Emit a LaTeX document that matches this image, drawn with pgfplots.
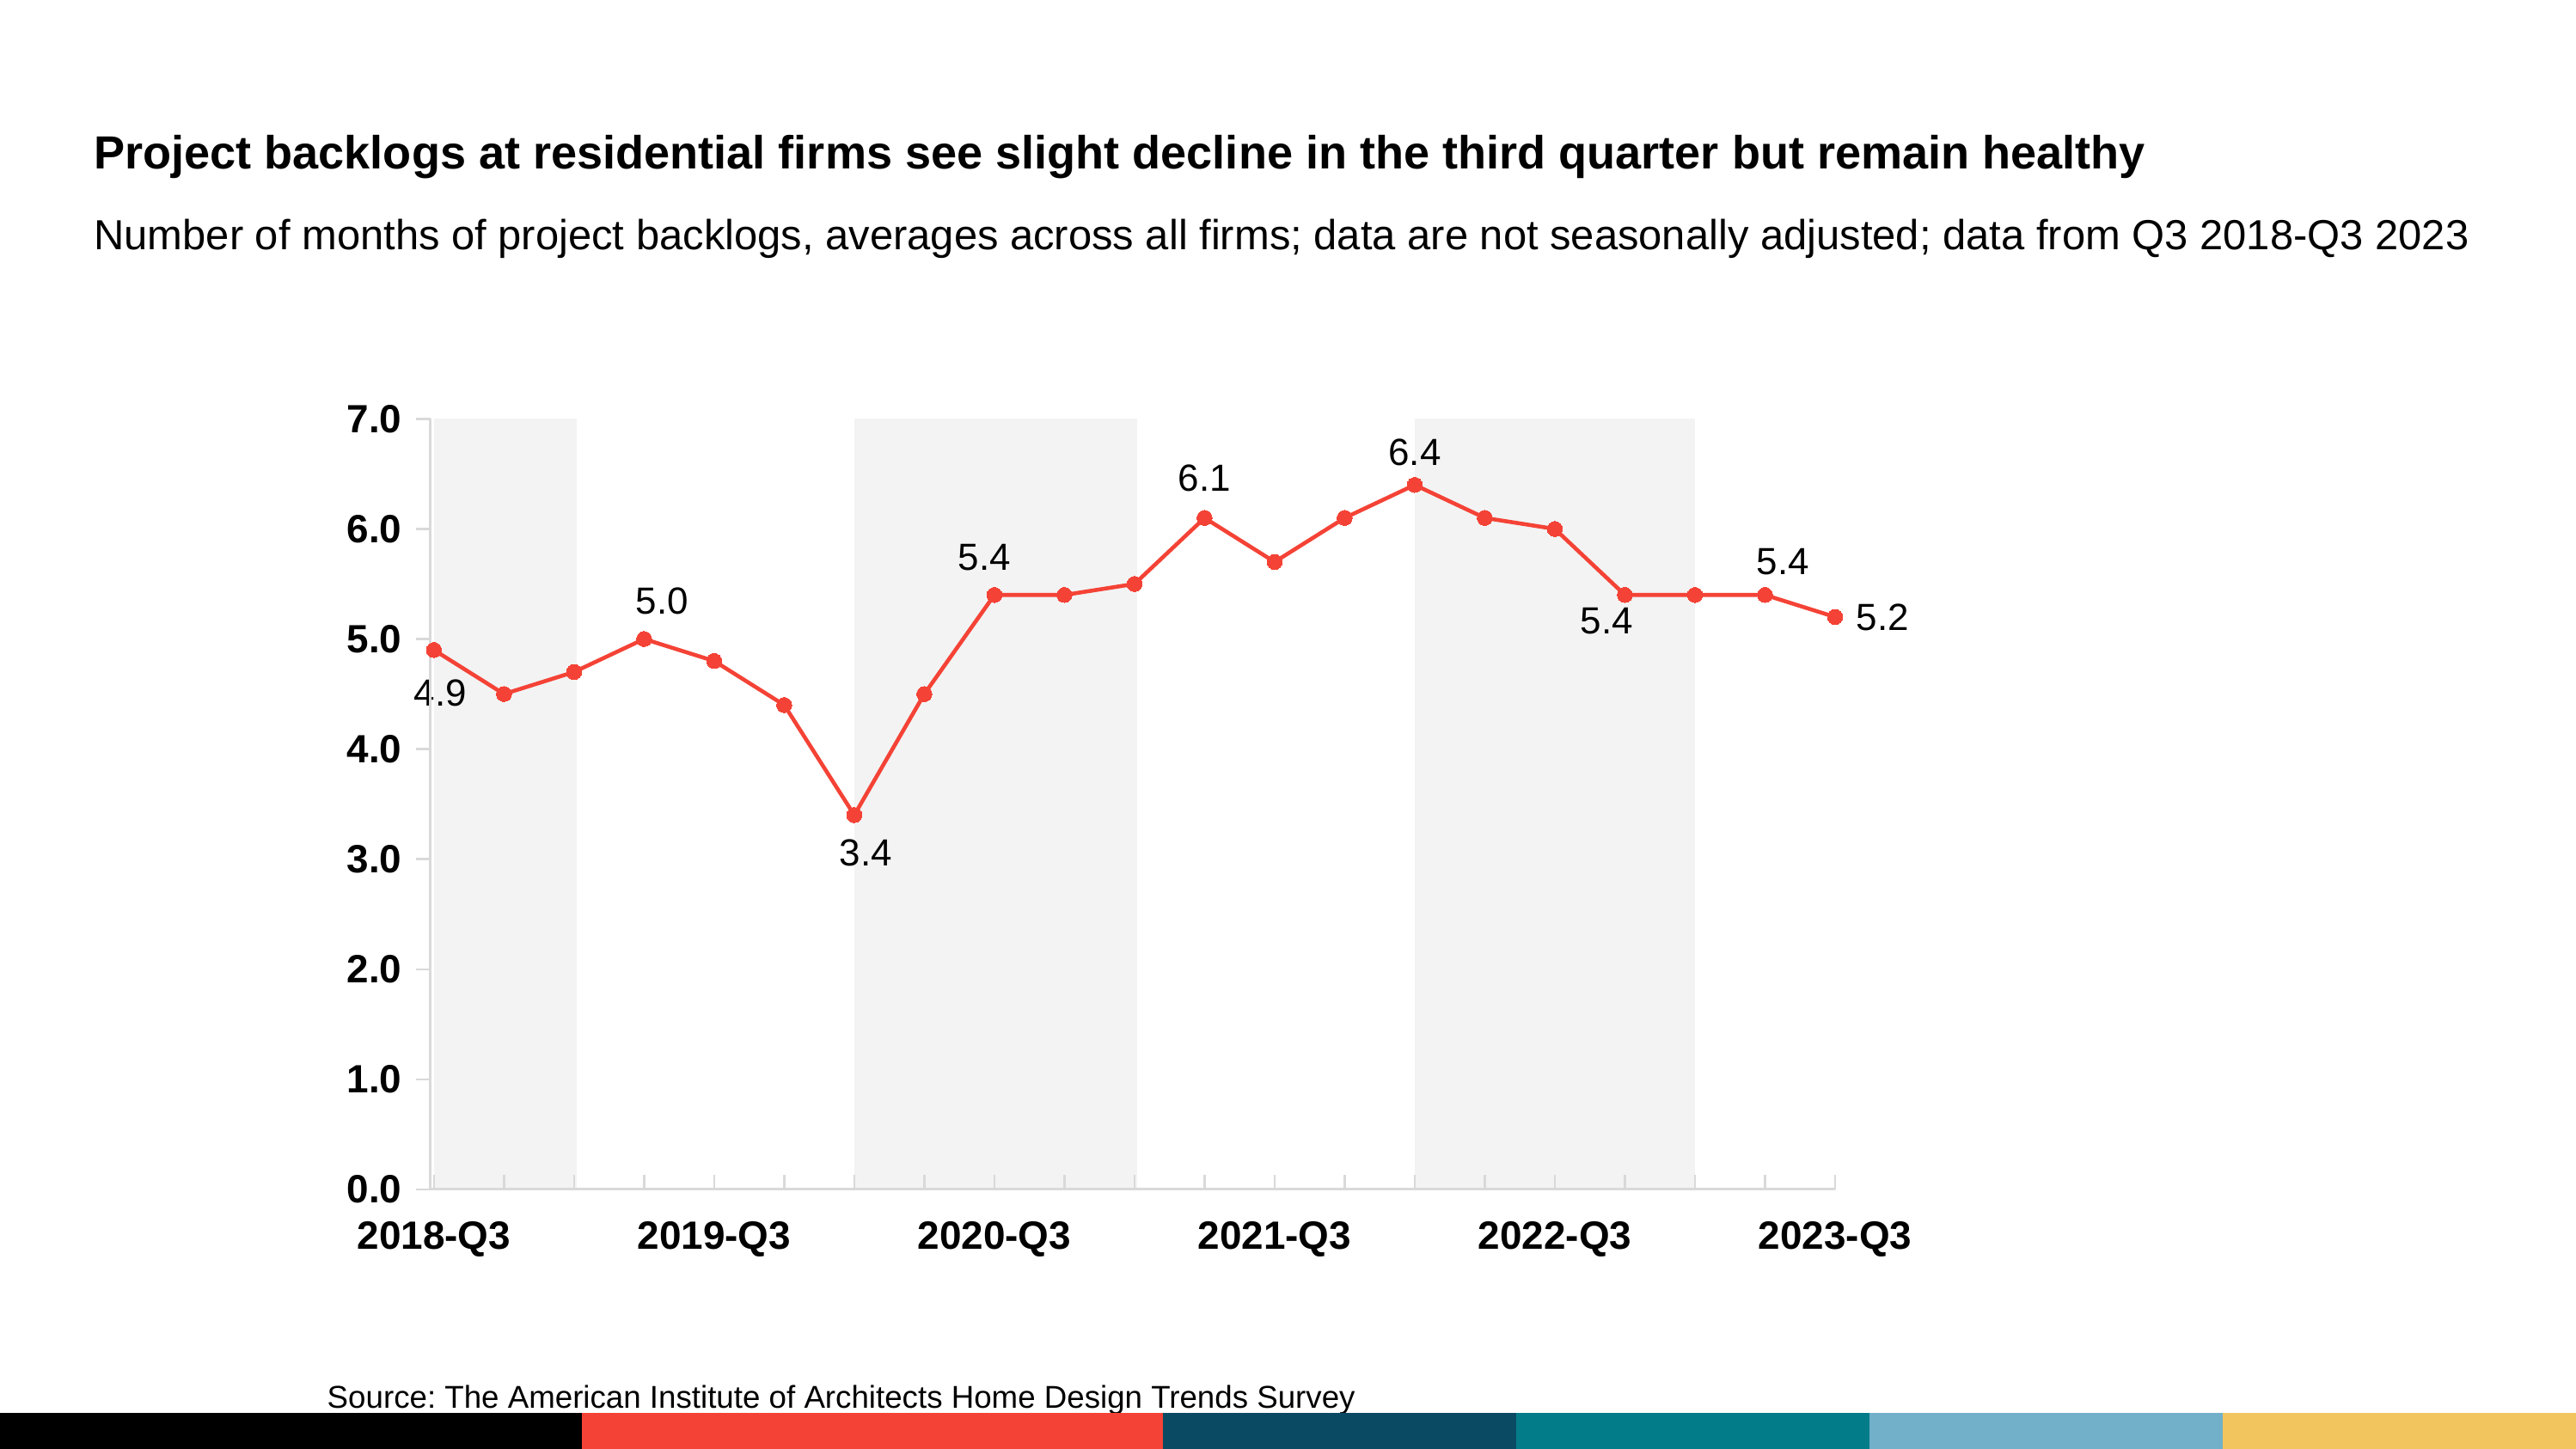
\documentclass[border=0pt]{standalone}
\usepackage{pgfplots}
\pgfplotsset{compat=1.18}
\usepackage{fontspec}
\setmainfont{Liberation Sans}
\frenchspacing
\definecolor{lred}{HTML}{F44336}
\definecolor{band}{HTML}{F3F3F3}
\definecolor{axgray}{HTML}{D9D9D9}
\definecolor{cdark}{HTML}{0A4B63}
\definecolor{cteal}{HTML}{037C8A}
\definecolor{clight}{HTML}{72B0CA}
\definecolor{cyellow}{HTML}{F2C55F}
\begin{document}
\begin{tikzpicture}[x=1pt,y=1pt]
\path[use as bounding box, fill=white] (0,0) rectangle (1568,882);
% title & subtitle
\node[anchor=base west, inner sep=0, font=\fontsize{28.3}{32}\selectfont\bfseries] at (57,779) {Project backlogs at residential firms see slight decline in the third quarter but remain healthy};
\node[anchor=base west, inner sep=0, font=\fontsize{25.6}{30}\selectfont] at (57,730) {Number of months of project backlogs, averages across all firms; data are not seasonally adjusted; data from Q3 2018-Q3 2023};
% source
\node[anchor=base west, inner sep=0, font=\fontsize{19.2}{22}\selectfont] at (199,25) {Source: The American Institute of Architects Home Design Trends Survey};
% color bar
\fill[black] (0,0) rectangle (354,22);
\fill[lred] (354,0) rectangle (708,22);
\fill[cdark] (708,0) rectangle (923,22);
\fill[cteal] (923,0) rectangle (1138,22);
\fill[clight] (1138,0) rectangle (1353,22);
\fill[cyellow] (1353,0) rectangle (1568,22);
\begin{axis}[
  axis on top,
  at={(262pt,158pt)}, anchor=south west,
  width=855pt, height=469pt, scale only axis,
  xmin=-0.05, xmax=20, ymin=0, ymax=7,
  axis x line=bottom, axis y line=left,
  axis line style={-, axgray, line width=1.5pt},
  xtick={0,4,8,12,16,20},
  xticklabels={2018-Q3,2019-Q3,2020-Q3,2021-Q3,2022-Q3,2023-Q3},
  minor xtick={0,...,20},
  xtick align=inside,
  ytick={0,1,...,7},
  ytick align=outside,
  major tick length=9pt, minor tick length=9pt,
  tick style={axgray, line width=1.2pt},
  /pgf/number format/assume math mode=true,
  yticklabel={\pgfmathprintnumber[fixed,fixed zerofill,precision=1]{\tick}},
  yticklabel style={font=\fontsize{24}{26}\selectfont\bfseries, xshift=-5pt},
  xticklabel style={font=\fontsize{24}{26}\selectfont\bfseries, yshift=-16pt},
  clip=false,
]
\fill[band] (axis cs:0,0) rectangle (axis cs:2.04,7);
\fill[band] (axis cs:6,0) rectangle (axis cs:10.04,7);
\fill[band] (axis cs:14,0) rectangle (axis cs:18,7);
\addplot[lred, line width=2.4pt, mark=*, mark size=4.6pt, mark options={fill=lred, draw=lred, line width=0pt}] coordinates {
(0,4.9)(1,4.5)(2,4.7)(3,5.0)(4,4.8)(5,4.4)(6,3.4)(7,4.5)(8,5.4)(9,5.4)(10,5.5)
(11,6.1)(12,5.7)(13,6.1)(14,6.4)(15,6.1)(16,6.0)(17,5.4)(18,5.4)(19,5.4)(20,5.2)};
\begin{scope}[every node/.style={font=\fontsize{23}{25}\selectfont, inner sep=0}]
\node at ([shift={(4pt,-26pt)}]axis cs:0,4.9) {4.9};
\node at ([shift={(11pt,23pt)}]axis cs:3,5.0) {5.0};
\node at ([shift={(7pt,-23pt)}]axis cs:6,3.4) {3.4};
\node at ([shift={(-6pt,23pt)}]axis cs:8,5.4) {5.4};
\node at ([shift={(0pt,24pt)}]axis cs:11,6.1) {6.1};
\node at ([shift={(0pt,20pt)}]axis cs:14,6.4) {6.4};
\node at ([shift={(-11pt,-16pt)}]axis cs:17,5.4) {5.4};
\node at ([shift={(11pt,20pt)}]axis cs:19,5.4) {5.4};
\node at ([shift={(29pt,0pt)}]axis cs:20,5.2) {5.2};
\end{scope}
\end{axis}
\end{tikzpicture}
\end{document}
